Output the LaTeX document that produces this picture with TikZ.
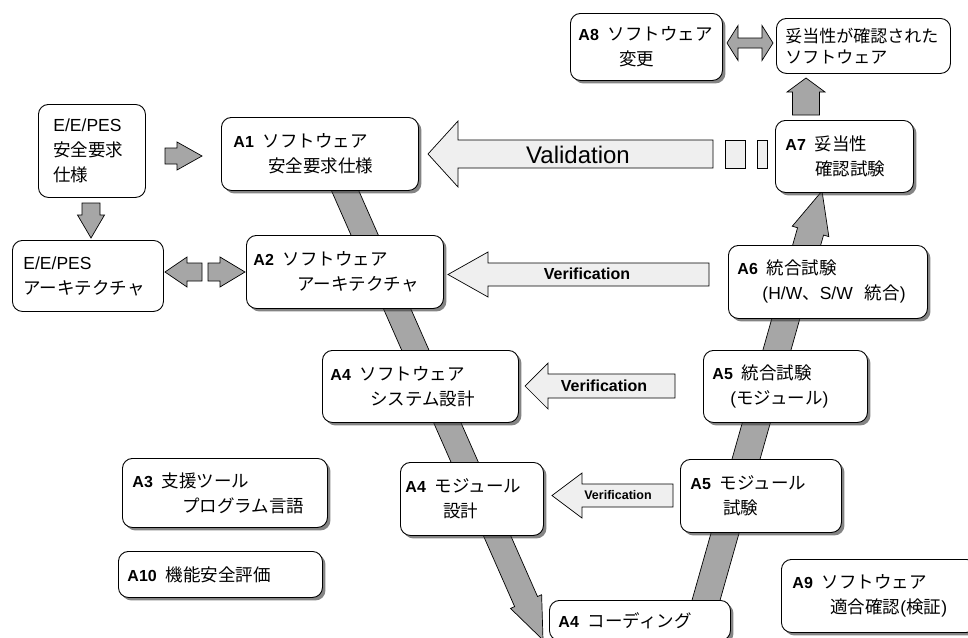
\documentclass[tikz,border=0pt]{standalone}
\usepackage{fontspec}
\setmainfont{Liberation Sans}
\newfontfamily\jpfont{Noto Sans CJK JP}
\newfontfamily\arialfont{Liberation Sans}
\usetikzlibrary{calc,shadows}
\setlength{\parindent}{0pt}
\definecolor{bandgray}{HTML}{A6A6A6}
\definecolor{arrowfill}{HTML}{EFEFEF}
\newcommand\lab[1]{{\arialfont\bfseries\fontsize{16}{25}\selectfont#1}\hspace{9pt}}
\newcommand\lat[1]{{\arialfont #1}}
% block arrow: style, tail, tip, shaft half width, head half width, head length
\newcommand\blockarrow[6]{%
  \coordinate (ba-h) at ($(#3)!#6!(#2)$);
  \filldraw[#1] ($(#2)!#4!90:(#3)$) -- ($(ba-h)!#4!90:(#3)$) -- ($(ba-h)!#5!90:(#3)$) -- (#3)
    -- ($(ba-h)!#5!-90:(#3)$) -- ($(ba-h)!#4!-90:(#3)$) -- ($(#2)!#4!-90:(#3)$) -- cycle;}
\begin{document}
\begin{tikzpicture}[x=1pt,y=-1pt,
  plainbox/.style={draw,line width=0.9pt,rounded corners=10pt,fill=white,align=left,
    anchor=north west,inner ysep=0pt,font=\fontsize{17.5}{25}\selectfont\jpfont},
  box/.style={plainbox,drop shadow={shadow xshift=3pt,shadow yshift=-3pt,fill=black!80,opacity=.6}},
  band/.style={fill=bandgray,draw=black,line width=0.7pt},
  darkarrow/.style={fill=bandgray,draw=black,line width=0.7pt},
  lightarrow/.style={fill=arrowfill,draw=black,line width=0.7pt},
  verif/.style={font=\arialfont\bfseries\fontsize{16}{16}\selectfont}]
\path[use as bounding box,fill=white] (0,0) rectangle (968,637);
\blockarrow{band}{336,170}{543,640}{12.5pt}{17pt}{42pt}
\blockarrow{band}{699,625}{822,191}{13.5pt}{19pt}{42pt}
\node[plainbox,inner xsep=15pt,text width=77pt,minimum height=93pt] (spec) at (38,104)
  {\lat{E/E/PES}\\安全要求\\仕様};
\node[plainbox,inner xsep=11pt,text width=129pt,minimum height=71pt] (arch) at (12,240)
  {\lat{E/E/PES}\\アーキテクチャ};
\node[box,inner xsep=12pt,text width=173pt,minimum height=73pt] (a1) at (221,117)
  {\lab{A1}ソフトウェア\\\hspace*{35pt}安全要求仕様};
\node[box,inner xsep=7pt,text width=183pt,minimum height=73pt] (a2) at (246,235)
  {\lab{A2}ソフトウェア\\\hspace*{44pt}アーキテクチャ};
\node[box,inner xsep=8pt,text width=180pt,minimum height=72pt] (a4s) at (322,350)
  {\lab{A4}ソフトウェア\\\hspace*{40pt}システム設計};
\node[box,inner xsep=5pt,text width=133pt,minimum height=73pt] (a4m) at (400,462)
  {\lab{A4}モジュール\\\hspace*{38pt}設計};
\node[box,inner xsep=9pt,text width=163pt,minimum height=40pt] (a4c) at (549,600)
  {\lab{A4}コーディング};
\node[box,inner xsep=10pt,text width=141pt,minimum height=73pt] (a5m) at (680,459)
  {\lab{A5}モジュール\\\hspace*{33pt}試験};
\node[box,inner xsep=9pt,text width=146pt,minimum height=72pt] (a5i) at (703,350)
  {\lab{A5}統合試験\\\hspace*{18pt}\lat{(}モジュール\lat{)}};
\node[box,inner xsep=9pt,text width=181pt,minimum height=73pt] (a6) at (728,245)
  {\lab{A6}統合試験\\\hspace*{25pt}\lat{(H/W}、\lat{S/W}\hspace{12pt}統合\lat{)}};
\node[box,inner xsep=10pt,text width=118pt,minimum height=72pt] (a7) at (775,120)
  {\lab{A7}妥当性\\\hspace*{30pt}確認試験};
\node[box,inner xsep=8pt,text width=136pt,minimum height=67pt] (a8) at (570,13)
  {\lab{A8}ソフトウェア\\\hspace*{41pt}変更};
\node[plainbox,inner xsep=9pt,text width=156pt,minimum height=55pt,
  font=\fontsize{17}{21}\selectfont\jpfont] (valsw) at (776,18)
  {妥当性が確認された\\ソフトウェア};
\node[box,inner xsep=10pt,text width=185pt,minimum height=69pt] (a3) at (122,458)
  {\lab{A3}支援ツール\\\hspace*{50pt}プログラム言語};
\node[box,inner xsep=9pt,text width=186pt,minimum height=46pt] (a10) at (118,551)
  {\lab{A10}機能安全評価};
\node[box,inner xsep=11pt,text width=173pt,minimum height=73pt] (a9) at (781,559)
  {\lab{A9}ソフトウェア\\\hspace*{38pt}適合確認\lat{(}検証\lat{)}};
\blockarrow{darkarrow}{165,156}{202,156}{8pt}{14pt}{25pt}
\blockarrow{darkarrow}{91,203}{91,238}{9pt}{13.5pt}{23pt}
\blockarrow{darkarrow}{202,272}{165,272}{9pt}{15pt}{22pt}
\blockarrow{darkarrow}{208,272}{245,272}{9pt}{15pt}{25pt}
\blockarrow{darkarrow}{806,115}{806,78}{13.5pt}{19pt}{14pt}
\filldraw[darkarrow] (727,43) -- (738,25.5) -- (738,38) -- (762,38) -- (762,25.5) -- (773,43)
  -- (762,60.5) -- (762,48) -- (738,48) -- (738,60.5) -- cycle;
\blockarrow{lightarrow}{713,154}{428,154}{14pt}{33pt}{30pt}
\filldraw[lightarrow] (725,140) rectangle (745,168);
\filldraw[lightarrow] (757,140) rectangle (767,168);
\blockarrow{lightarrow}{709,274.5}{448,274.5}{11.5pt}{22.5pt}{40pt}
\blockarrow{lightarrow}{675,386}{525,386}{12pt}{23pt}{23pt}
\blockarrow{lightarrow}{673,495.5}{552,495.5}{11.5pt}{22.5pt}{30pt}
\node[font=\arialfont\fontsize{24}{24}\selectfont] (valtxt) at (578,155) {Validation};
\node[verif] (ver1) at (587,274) {Verification};
\node[verif] (ver2) at (604,386) {Verification};
\node[verif,font=\arialfont\bfseries\fontsize{12.5}{12.5}\selectfont] (ver3) at (618,495) {Verification};
\end{tikzpicture}
\end{document}
